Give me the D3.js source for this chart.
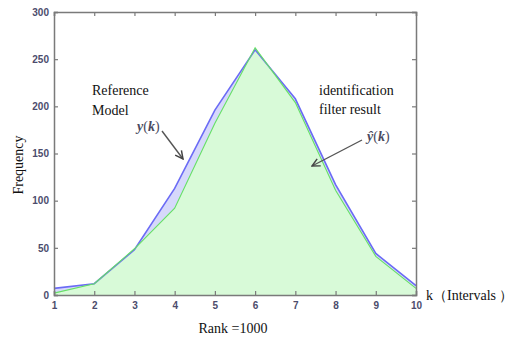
<!DOCTYPE html>
<html><head><meta charset="utf-8">
<script src="https://cdn.jsdelivr.net/npm/d3@7"></script>
<style>body{margin:0;background:#fff}svg{display:block}</style>
</head><body>
<svg id="c" width="514" height="339"></svg>
<script>
const kValues = [1,2,3,4,5,6,7,8,9,10];
const referenceModel = [7,12,48,113,196,260,208,117,44,10];
const filterResult = [2,12,49,92,182,262,204,111,41,7];
const xTicks = [1,2,3,4,5,6,7,8,9,10];
const yTicks = [0,50,100,150,200,250,300];

const svg = d3.select('#c');
const m = {l:54, r:416, t:12, b:295};
const x = d3.scaleLinear().domain([1,10]).range([m.l,m.r]);
const y = d3.scaleLinear().domain([0,300]).range([m.b,m.t]);

const ref = kValues.map((k,i)=>({k, v:referenceModel[i]}));
const fil = kValues.map((k,i)=>({k, v:filterResult[i]}));

const area = d3.area().x(d=>x(d.k)).y0(y(0)).y1(d=>y(d.v));
const line = d3.line().x(d=>x(d.k)).y(d=>y(d.v));

svg.append('path').datum(ref).attr('d',area).attr('fill','#d6d8fb');
svg.append('path').datum(fil).attr('d',area).attr('fill','#d8fad8');
svg.append('path').datum(ref).attr('d',line).attr('fill','none').attr('stroke','#6b6bf5').attr('stroke-width',1.6);
svg.append('path').datum(fil).attr('d',line).attr('fill','none').attr('stroke','#66e066').attr('stroke-width',1.1);

// frame
const axCol = '#7a7a7a';
const tickCol = '#4c4c6c';
const gB = svg.append('g').attr('transform',`translate(0,${m.b})`)
  .call(d3.axisBottom(x).tickValues(xTicks).tickSize(-4).tickPadding(7).tickFormat(d3.format('d')));
const gL = svg.append('g').attr('transform',`translate(${m.l},0)`)
  .call(d3.axisLeft(y).tickValues(yTicks).tickSize(-4).tickPadding(5));
const gT = svg.append('g').attr('transform',`translate(0,${m.t})`)
  .call(d3.axisTop(x).tickValues(xTicks).tickSize(-4).tickFormat(''));
const gR = svg.append('g').attr('transform',`translate(${m.r},0)`)
  .call(d3.axisRight(y).tickValues(yTicks).tickSize(-4).tickFormat(''));
[gB,gL,gT,gR].forEach(g=>{
  g.select('.domain').attr('stroke',axCol).attr('stroke-width',1.5);
  g.selectAll('.tick line').attr('stroke',axCol).attr('stroke-width',1.2);
  g.selectAll('.tick text').attr('fill',tickCol).attr('font-family','Liberation Sans, Arial, sans-serif')
   .attr('font-size',10).attr('font-weight','bold');
});

const serif = 'Liberation Serif, Times New Roman, serif';
function txt(xp,yp,s,opt={}){
  return svg.append('text').attr('x',xp).attr('y',yp).text(s)
    .attr('font-family',opt.ff||serif).attr('font-size',opt.fs||14)
    .attr('fill',opt.fill||'#111').attr('font-style',opt.it?'italic':null)
    .attr('text-anchor',opt.anchor||'start');
}
txt(92,95,'Reference');
txt(92,115,'Model');
txt(319,95,'identification');
txt(319,114,'filter result');
txt(233,333,'Rank =1000',{anchor:'middle'});
txt(426,300,'k（Intervals ）');
svg.append('text').attr('transform','translate(23,165) rotate(-90)').attr('text-anchor','middle')
  .attr('font-family',serif).attr('font-size',14).attr('fill','#111').text('Frequency');

// y(k) annotations
const annCol = '#4a4a60';
const t1 = svg.append('text').attr('x',137).attr('y',131).attr('font-family',serif).attr('font-size',14).attr('fill',annCol);
t1.append('tspan').attr('font-style','italic').attr('font-weight','bold').text('y');
t1.append('tspan').text('(');
t1.append('tspan').attr('font-style','italic').attr('font-weight','bold').text('k');
t1.append('tspan').text(')');
const t2 = svg.append('text').attr('x',367).attr('y',141).attr('font-family',serif).attr('font-size',14).attr('fill',annCol);
t2.append('tspan').attr('font-style','italic').attr('font-weight','bold').text('ŷ');
t2.append('tspan').text('(');
t2.append('tspan').attr('font-style','italic').attr('font-weight','bold').text('k');
t2.append('tspan').text(')');

const defs = svg.append('defs');
defs.append('marker').attr('id','ah').attr('viewBox','0 0 10 10').attr('refX',9).attr('refY',5)
  .attr('markerWidth',7).attr('markerHeight',7).attr('orient','auto')
  .append('path').attr('d','M1,1 L9,5 L1,9').attr('fill','none').attr('stroke','#444').attr('stroke-width',1.5);
svg.append('line').attr('x1',162).attr('y1',131).attr('x2',183).attr('y2',159)
  .attr('stroke','#555').attr('stroke-width',1.4).attr('marker-end','url(#ah)');
svg.append('line').attr('x1',362).attr('y1',140).attr('x2',312).attr('y2',166)
  .attr('stroke','#555').attr('stroke-width',1.4).attr('marker-end','url(#ah)');
</script>
</body></html>
